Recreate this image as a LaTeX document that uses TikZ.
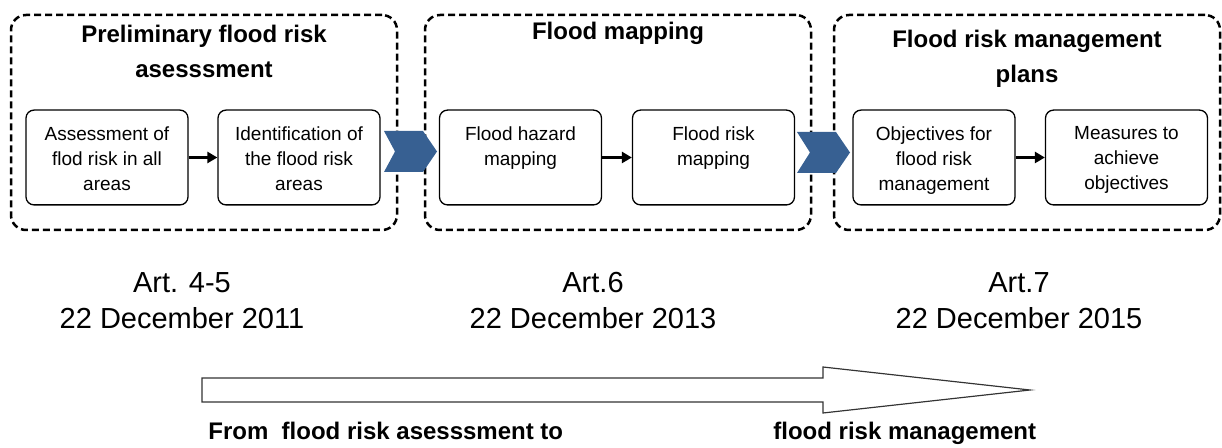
\documentclass[tikz,border=0pt]{standalone}
\usepackage{fontspec}
\setmainfont{Liberation Sans}
\usetikzlibrary{arrows.meta, positioning}
\definecolor{chevblue}{RGB}{55,96,146}
\newcommand{\taskbody}[1]{\parbox[c][31pt][t]{78pt}{\centering #1}}
\tikzset{
    stage/.style={draw,rounded corners=7.5pt,line width=1.25pt,dash pattern=on 3.5pt off 2pt,
        minimum width=193pt,minimum height=107.5pt,inner sep=0pt},
    stitle/.style={font=\fontsize{12}{17.5}\selectfont\bfseries,align=center,inner sep=0pt},
    task/.style={draw,rounded corners=4pt,line width=0.65pt,inner xsep=1.5pt,inner ysep=8.2pt,
        font=\fontsize{9.5}{12.5}\selectfont},
    link/.style={-{Triangle[length=5pt,width=5.5pt]},line width=1.5pt},
    chevron/.style={fill=chevblue},
    timeline/.style={draw=black!80,line width=0.6pt,fill=white},
    art/.style={font=\fontsize{14.5}{18}\selectfont,align=center,inner sep=0pt,anchor=north},
    caption/.style={font=\fontsize{12}{14}\selectfont\bfseries,inner sep=0pt,anchor=base west},
}

\begin{document}
\begin{tikzpicture}[x=0.5pt,y=-0.5pt]
\useasboundingbox (0,0) rectangle (1222,448);
% three stages
\node[stage] (s1) at (204,122.5) {};
\node[stage] (s2) at (618,122.5) {};
\node[stage] (s3) at (1027,122.5) {};
\node[stitle,below=5.5pt of s1.north] (t1) {Preliminary flood risk\\asesssment};
\node[stitle,below=4pt of s2.north] (t2) {Flood mapping};
\node[stitle,below=8pt of s3.north] (t3) {Flood risk management\\plans};
% steps
\node[task] (a1) at (107,157.5)   {\taskbody{Assessment of\\flod risk in all\\areas}};
\node[task] (a2) at (299,157.5)   {\taskbody{Identification of\\the flood risk\\areas}};
\node[task] (b1) at (520.5,157.5) {\taskbody{Flood hazard\\mapping}};
\node[task] (b2) at (713.5,157.5) {\taskbody{Flood risk\\mapping}};
\node[task] (c1) at (934,157.5)   {\taskbody{Objectives for\\flood risk\\management}};
\node[task] (c2) at (1126.5,157.5){\taskbody{Measures to\\achieve\\objectives}};
\draw[link] (a1) -- (a2);
\draw[link] (b1) -- (b2);
\draw[link] (c1) -- (c2);
% chevrons
\fill[chevron] (384,131) -- (423,131) -- (437,151.5) -- (423,172) -- (384,172) -- (395,151.5) -- cycle;
\fill[chevron] (797,132) -- (836,132) -- (850,152.5) -- (836,173) -- (797,173) -- (810,152.5) -- cycle;
% deadlines
\node[art] (d1) at (182,272)  {Art. 4-5\\22 December 2011};
\node[art] (d2) at (593,272)  {Art.6\\22 December 2013};
\node[art] (d3) at (1019,272) {Art.7\\22 December 2015};
% timeline
\draw[timeline] (202,378) -- (823,378) -- (823,367) -- (1030,390) -- (823,413) -- (823,402) -- (202,402) -- cycle;
\node[caption] (from) at (208,440) {From\ \ flood risk asesssment to};
\node[caption] (to) at (773,440) {flood risk management};
\end{tikzpicture}
\end{document}
